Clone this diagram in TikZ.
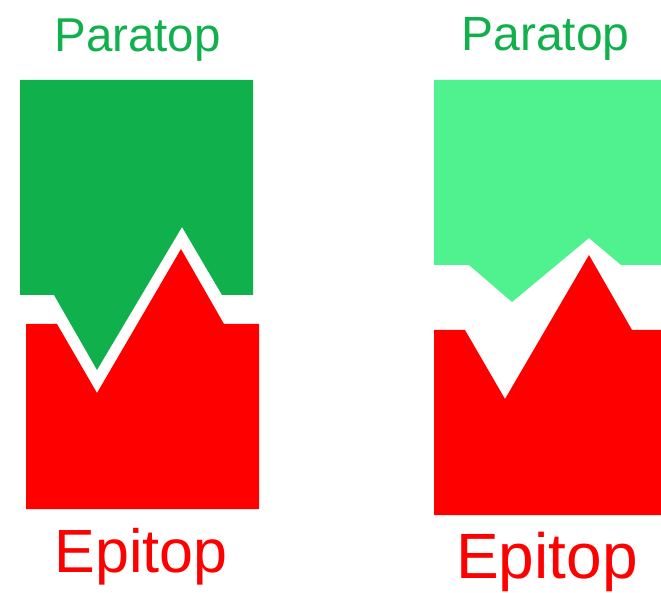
\documentclass[tikz,border=0pt]{standalone}
\usepackage{fontspec}
\setmainfont{Liberation Sans}
\definecolor{paragreen}{RGB}{16,176,76}
\definecolor{paralight}{RGB}{80,242,143}
\definecolor{epired}{RGB}{255,0,0}
\begin{document}
\begin{tikzpicture}[x=1pt,y=-1pt,
  label/.style={inner sep=0pt,anchor=base}]
\useasboundingbox (0,0) rectangle (661,593);
% bound pair: paratope fits into the epitope
\fill[paragreen] (20,80) -- (253,80) -- (253,295) -- (222,295) -- (182,227)
  -- (97,370) -- (54,295) -- (20,295) -- cycle;
\fill[epired] (26,324) -- (57,324) -- (97,393) -- (181,249) -- (224,324)
  -- (259,324) -- (259,509) -- (26,509) -- cycle;
% unbound pair: shapes do not match
\fill[paralight] (434,80) -- (661,80) -- (661,265) -- (621,265) -- (589,238)
  -- (512,302) -- (469,265) -- (434,265) -- cycle;
\fill[epired] (434,330) -- (465,330) -- (505,399) -- (589,255) -- (632,330)
  -- (661,330) -- (661,515) -- (434,515) -- cycle;
% labels
\node[label,text=paragreen,font=\fontsize{47.5}{57}\selectfont] (p1) at (137.5,52) {Paratop};
\node[label,text=paragreen,font=\fontsize{48}{58}\selectfont] (p2) at (545.5,50.5) {Paratop};
\node[label,text=epired,font=\fontsize{61}{73}\selectfont] (e1) at (141,572) {Epitop};
\node[label,text=epired,font=\fontsize{64}{77}\selectfont] (e2) at (547,578.5) {Epitop};
\end{tikzpicture}
\end{document}
